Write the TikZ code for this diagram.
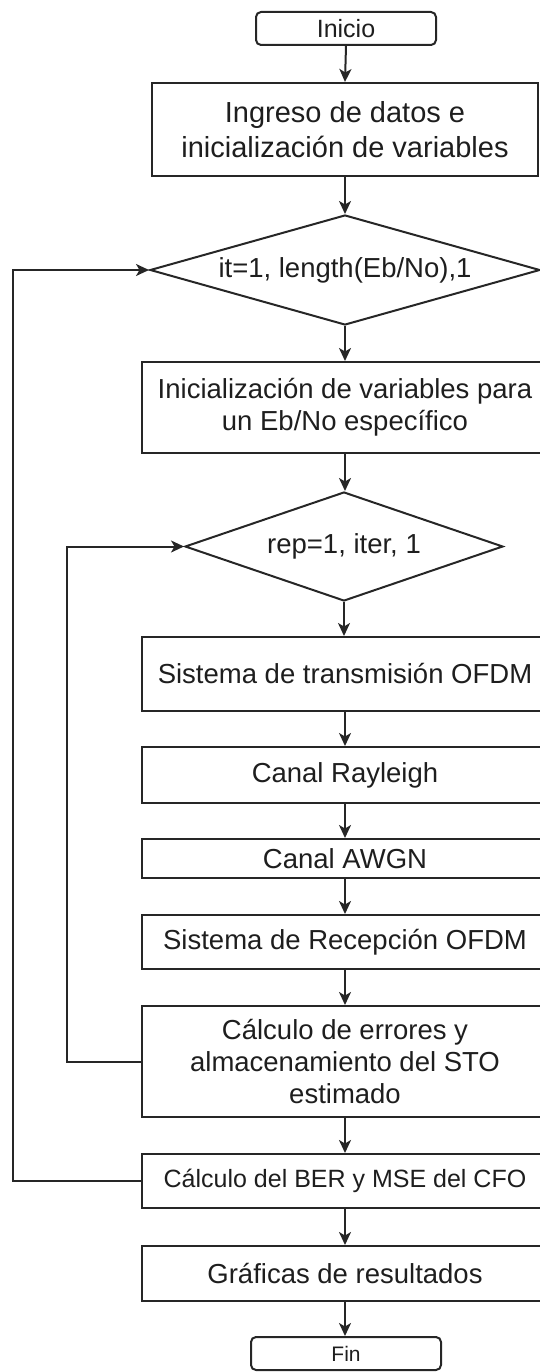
\documentclass[tikz,border=0pt]{standalone}
\usepackage{fontspec}
\setmainfont{Liberation Sans}
\usetikzlibrary{shapes.geometric,arrows.meta}
\definecolor{linec}{HTML}{262626}
\definecolor{textc}{HTML}{1E1E1E}
\begin{document}
\begin{tikzpicture}[x=1pt,y=-1pt,
  every node/.style={text=textc},
  box/.style={draw=linec,line width=2pt,rectangle,inner sep=0pt,align=center,
    font=\fontsize{27.5}{32}\selectfont,minimum width=406pt},
  term/.style={draw=linec,line width=2pt,rectangle,rounded corners=5pt,inner sep=0pt,
    minimum height=33pt},
  dec/.style={draw=linec,line width=2pt,diamond,inner sep=0pt,aspect=3.5,
    font=\fontsize{27.5}{32}\selectfont},
  arr/.style={draw=linec,line width=2pt,-{Stealth[length=13pt,width=12pt,inset=3.5pt]}},
  ln/.style={draw=linec,line width=2pt}
]
\useasboundingbox (0,0) rectangle (540,1372);
\clip (0,0) rectangle (540,1372);

\node[term,minimum width=180pt,font=\fontsize{25}{30}\selectfont] (inicio) at (346,28.5) {Inicio};
\node[box,minimum width=386pt,minimum height=93pt,font=\fontsize{29}{35}\selectfont] (ingreso) at (345,129.5) {Ingreso de datos e\\inicialización de variables};
\node[dec,minimum width=390pt,minimum height=110pt] (d1) at (345,270) {it=1, length(Eb/No),1};
\node[box,minimum height=91pt] (ini2) at (345,407.5) {Inicialización de variables para\\un Eb/No específico};
\node[dec,minimum width=318pt,minimum height=109pt] (d2) at (344,546.5) {rep=1, iter, 1};
\node[box,minimum height=74pt] (tx) at (345,674) {Sistema de transmisión OFDM};
\node[box,minimum height=56pt] (ray) at (345,775) {Canal Rayleigh};
\node[box,minimum height=39pt] (awgn) at (345,858.5) {Canal AWGN};
\node[box,minimum height=54pt] (rx) at (345,942) {Sistema de Recepción OFDM};
\node[box,minimum height=111pt] (err) at (345,1061.5) {Cálculo de errores y\\almacenamiento del STO\\estimado};
\node[box,minimum height=54pt,font=\fontsize{25}{30}\selectfont] (ber) at (345,1181) {Cálculo del BER y MSE del CFO};
\node[box,minimum height=55pt] (graf) at (345,1273.5) {Gráficas de resultados};
\node[term,minimum width=190pt,font=\fontsize{21}{26}\selectfont] (fin) at (346,1353.5) {Fin};

\coordinate (c1) at (67,1061.5);
\coordinate (c2) at (67,546.5);
\coordinate (c3) at (13,1181);
\coordinate (c4) at (13,270);

\draw[arr] (inicio.south) -- (ingreso.north);
\draw[arr] (ingreso.south) -- (d1.north);
\draw[arr] (d1.south) -- (ini2.north);
\draw[arr] (ini2.south) -- (d2.north -| ini2.south);
\draw[arr] (d2.south) -- (tx.north -| d2.south);
\draw[arr] (tx.south) -- (ray.north);
\draw[arr] (ray.south) -- (awgn.north);
\draw[arr] (awgn.south) -- (rx.north);
\draw[arr] (rx.south) -- (err.north);
\draw[arr] (err.south) -- (ber.north);
\draw[arr] (ber.south) -- (graf.north);
\draw[arr] (graf.south) -- (fin.north -| graf.south);

\draw[arr] (err.west) -- (c1) -- (c2) -- (d2.west);
\draw[arr] (ber.west) -- (c3) -- (c4) -- (d1.west);
\end{tikzpicture}
\end{document}
